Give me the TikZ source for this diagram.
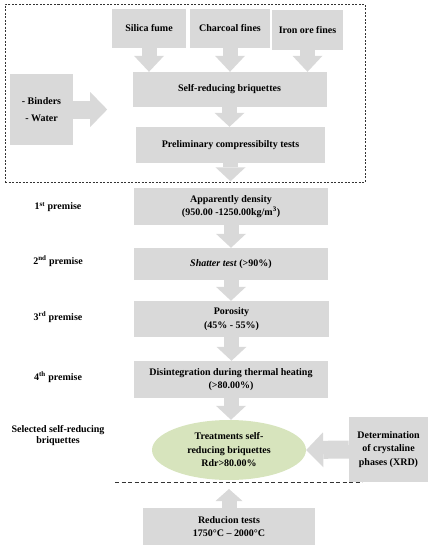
\documentclass[tikz,border=0pt]{standalone}
\usepackage{fontspec}
\setmainfont{Liberation Serif}
\usetikzlibrary{arrows.meta,positioning,shapes.geometric}
\definecolor{boxgray}{RGB}{217,217,217}
\definecolor{ellgreen}{RGB}{215,228,189}
\tikzset{every node/.style={font=\fontsize{10}{13.5}\selectfont\bfseries, align=center, inner sep=0pt},
  box/.style={fill=boxgray},
  dashbox/.style={draw=black!80, line width=0.6pt, dash pattern=on 2pt off 1.5pt},
  dashline/.style={draw=black!80, line width=0.6pt, dash pattern=on 4pt off 2.5pt},
  blockarrow/.style={boxgray, line width=15pt, -{Triangle[width=30pt,length=14pt,line width=0pt]}},
  bigarrow/.style={boxgray, line width=18pt, -{Triangle[width=35pt,length=17pt,line width=0pt]}}}

\begin{document}
\begin{tikzpicture}[x=1pt,y=-1pt]
  \useasboundingbox (0,0) rectangle (434,550);
  % mixing stage
  \node[dashbox, minimum width=360pt, minimum height=178pt] (mix) at (185,93) {};
  \node[box, minimum width=74pt, minimum height=39pt] (silica) at (149,28.5) {Silica fume};
  \node[box, minimum width=80pt, minimum height=39pt] (charcoal) at (230,28.5) {Charcoal fines};
  \node[box, minimum width=71pt, minimum height=40pt] (ironore) at (307.5,30) {Iron ore fines};
  \node[box, minimum width=194pt, minimum height=35pt] (briq) at (229.5,89.5) {Self-reducing briquettes};
  \node[box, minimum width=63pt, minimum height=71pt] (binders) at (41.5,109.5) {- Binders\\[4pt]- Water};
  \node[box, minimum width=189pt, minimum height=36pt] (prelim) at (230.5,145) {Preliminary compressibilty tests};
  \coordinate[right=34pt of binders.east] (bindtip);
  % premises
  \node[box, minimum width=194pt, minimum height=37pt] (density) at (231,206.5) {Apparently density\\(950.00 -1250.00kg/m\textsuperscript{3})};
  \node[box, minimum width=194pt, minimum height=32pt] (shatter) at (231,264) {\textit{Shatter test} (>90\%)};
  \node[box, minimum width=195pt, minimum height=36pt] (porosity) at (231.5,319) {Porosity\\(45\% - 55\%)};
  \node[box, minimum width=194pt, minimum height=37pt] (disint) at (231,379.5) {Disintegration during thermal heating\\(>80.00\%)};
  \node (p1) at (58,207) {1\textsuperscript{st} premise};
  \node (p2) at (58,261) {2\textsuperscript{nd} premise};
  \node (p3) at (58,317) {3\textsuperscript{rd} premise};
  \node (p4) at (58,377) {4\textsuperscript{th} premise};
  \node (sel) at (58,436) {Selected self-reducing\\[-2.5pt]briquettes};
  % selected briquettes
  \node[fill=ellgreen, ellipse, minimum width=154pt, minimum height=60pt] (treat) at (229,450) {Treatments self-\\reducing briquettes\\Rdr>80.00\%};
  \node[box, minimum width=79pt, minimum height=65pt] (xrd) at (388.5,449.5) {Determination\\of crystaline\\phases (XRD)};
  \node[box, minimum width=172pt, minimum height=37pt] (reduc) at (229,526.5) {Reducion tests\\1750°C – 2000°C};
  \coordinate (dl1) at (115,482);
  \coordinate (dl2) at (362,482);
  \coordinate (uptip) at (229,489);
  \draw[dashline] (dl1) -- (dl2);
  % arrows
  \draw[blockarrow, -{Triangle[width=30pt,length=16pt,line width=0pt]}] (silica.south) -- (silica.south |- briq.north);
  \draw[blockarrow, -{Triangle[width=30pt,length=16pt,line width=0pt]}] (charcoal.south) -- (charcoal.south |- briq.north);
  \draw[blockarrow, -{Triangle[width=30pt,length=16pt,line width=0pt]}] (ironore.south) -- (ironore.south |- briq.north);
  \draw[bigarrow] (binders.east) -- (bindtip);
  \draw[blockarrow] (briq.south) -- (briq.south |- prelim.north);
  \draw[blockarrow] (prelim.south) -- ([yshift=1pt]prelim.south |- mix.south);
  \draw[blockarrow] (density.south) -- (density.south |- shatter.north);
  \draw[blockarrow] (shatter.south) -- (shatter.south |- porosity.north);
  \draw[blockarrow] (porosity.south) -- (porosity.south |- disint.north);
  \draw[blockarrow] (disint.south) -- (disint.south |- treat.north);
  \draw[bigarrow] (xrd.west) -- (treat.east);
  \draw[blockarrow, -{Triangle[width=27pt,length=12pt,line width=0pt]}] (reduc.north) -- (uptip);
\end{tikzpicture}
\end{document}
